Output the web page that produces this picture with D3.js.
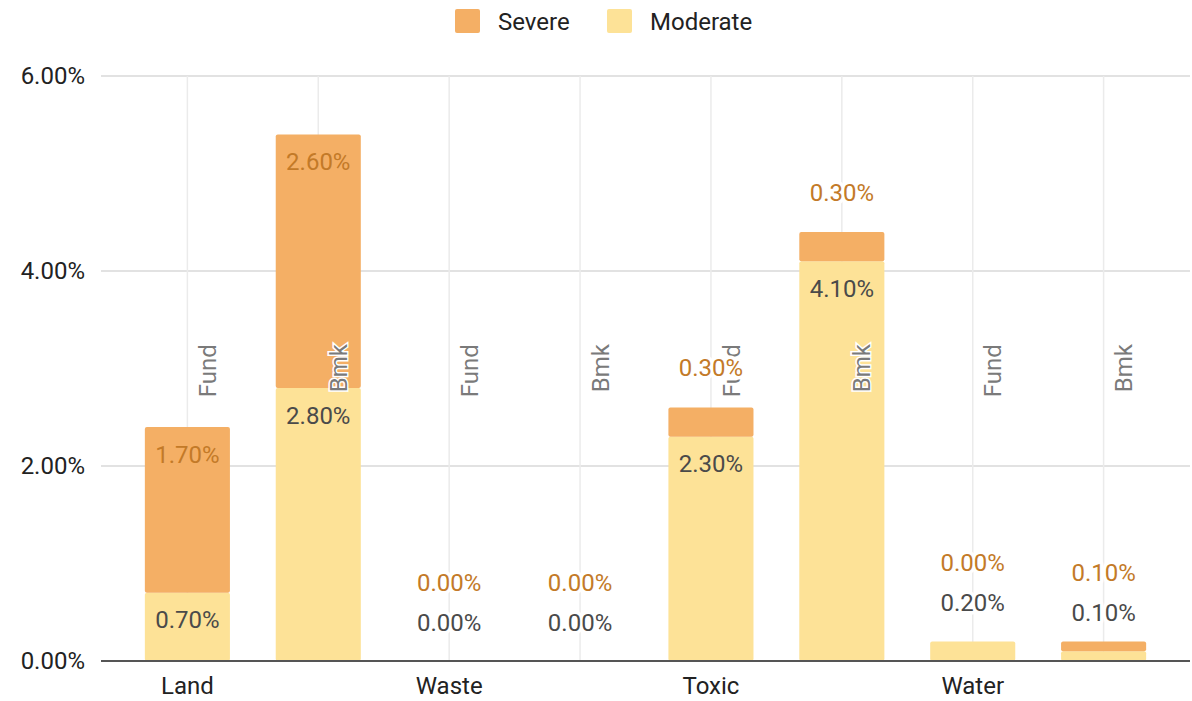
<!DOCTYPE html>
<html>
<head>
<meta charset="utf-8">
<script src="https://cdn.jsdelivr.net/npm/d3@7"></script>
<style>
  html, body { margin: 0; padding: 0; background: #fff; }
  svg { display: block; font-family: Roboto, "Noto Sans", Arial, sans-serif; }
</style>
</head>
<body>
<svg id="chart" width="1192" height="701"></svg>
<script>
// ---- data ----
const categories = ["Land", "Waste", "Toxic", "Water"];
const groups = ["Fund", "Bmk"];
const seriesNames = ["Severe", "Moderate"];
const moderate = [0.7, 2.8, 0.0, 0.0, 2.3, 4.1, 0.2, 0.1];
const severe   = [1.7, 2.6, 0.0, 0.0, 0.3, 0.3, 0.0, 0.1];
const yTicks = [0, 2, 4, 6];

// ---- layout ----
const W = 1192, H = 701;
const margin = { left: 101, right: 2, top: 76, bottom: 40 };
const colors = { Severe: "#f4af65", Moderate: "#fde297" };
const labelColors = { Severe: "#c37a28", Moderate: "#4a4a4a" };

const svg = d3.select("#chart");

const slots = [];
categories.forEach(c => groups.forEach(g => slots.push(c + "|" + g)));
const rows = slots.map((k, i) => ({ key: k, cat: k.split("|")[0], grp: k.split("|")[1], moderate: moderate[i], severe: severe[i] }));

const x = d3.scaleBand().domain(slots).range([margin.left, W - margin.right])
  .paddingInner(0.35).paddingOuter(0.335);
const y = d3.scaleLinear().domain([0, 6]).range([H - margin.bottom, margin.top]);

// horizontal grid
svg.append("g").selectAll("line").data(yTicks.filter(d => d !== 0)).join("line")
  .attr("x1", margin.left).attr("x2", W - margin.right)
  .attr("y1", d => y(d)).attr("y2", d => y(d))
  .attr("stroke", "#d9d9d9").attr("stroke-width", 1.5);

// vertical grid at band centers
svg.append("g").selectAll("line").data(slots).join("line")
  .attr("x1", d => x(d) + x.bandwidth() / 2).attr("x2", d => x(d) + x.bandwidth() / 2)
  .attr("y1", y(6)).attr("y2", y(0))
  .attr("stroke", "#ebebeb").attr("stroke-width", 1.5);

// y axis labels
const yAxis = d3.axisLeft(y).tickValues(yTicks).tickFormat(d => d.toFixed(2) + "%").tickSize(0).tickPadding(16);
const yg = svg.append("g").attr("transform", `translate(${margin.left},0)`).call(yAxis);
yg.select(".domain").remove();
yg.selectAll("text").attr("font-size", 24).attr("fill", "#222").attr("font-family", "Roboto, Arial, sans-serif");

// stacked bars
const stack = d3.stack().keys(["moderate", "severe"]);
const stacked = stack(rows);
const seriesColor = { moderate: colors.Moderate, severe: colors.Severe };
stacked.forEach(layer => {
  svg.append("g").selectAll("rect").data(layer.filter(d => d[1] - d[0] > 0)).join("rect")
    .attr("x", d => x(d.data.key))
    .attr("width", x.bandwidth())
    .attr("y", d => y(d[1]))
    .attr("height", d => y(d[0]) - y(d[1]))
    .attr("rx", 2)
    .attr("fill", seriesColor[layer.key]);
});

// group labels (Fund / Bmk), vertical
svg.append("g").selectAll("text").data(rows).join("text")
  .attr("transform", d => `translate(${x(d.key) + x.bandwidth() / 2 + 20},${y(3.25)}) rotate(-90)`)
  .attr("text-anchor", "end")
  .attr("dy", "0.36em")
  .attr("font-size", 24)
  .attr("fill", "#7a7a7a")
  .attr("stroke", "#fff").attr("stroke-width", 3).attr("paint-order", "stroke")
  .text(d => d.grp);

// value labels
const labels = [];
rows.forEach(d => {
  const cx = x(d.key) + x.bandwidth() / 2;
  const modTop = y(d.moderate);
  const modH = y(0) - modTop;
  let modY, modOutside = false;
  if (modH >= 35) { modY = modTop + 27; } else { modY = modTop - 39; modOutside = true; }
  const sevTop = y(d.moderate + d.severe);
  const sevH = y(d.moderate) - sevTop;
  let sevY, sevOutside = false;
  if (sevH >= 35) { sevY = sevTop + 27; }
  else {
    sevOutside = true;
    sevY = sevTop - 40;
    if (modOutside) sevY = Math.min(sevY, modY - 40);
  }
  labels.push({ x: cx, y: modY, v: d.moderate, s: "Moderate", out: modOutside });
  labels.push({ x: cx, y: sevY, v: d.severe, s: "Severe", out: sevOutside });
});
svg.append("g").selectAll("text").data(labels).join("text")
  .attr("x", d => d.x).attr("y", d => d.y)
  .attr("text-anchor", "middle").attr("dy", "0.36em")
  .attr("font-size", 24)
  .attr("fill", d => labelColors[d.s])
  .attr("stroke", d => d.out ? "#fff" : "none")
  .attr("stroke-width", 7)
  .attr("stroke-linejoin", "round")
  .attr("paint-order", "stroke")
  .text(d => d.v.toFixed(2) + "%");

// baseline
svg.append("line")
  .attr("x1", margin.left).attr("x2", W - margin.right)
  .attr("y1", y(0)).attr("y2", y(0))
  .attr("stroke", "#555").attr("stroke-width", 2);

// category labels on x axis (at Fund slots)
svg.append("g").selectAll("text").data(categories).join("text")
  .attr("x", c => x(c + "|" + groups[0]) + x.bandwidth() / 2)
  .attr("y", y(0) + 33)
  .attr("text-anchor", "middle")
  .attr("font-size", 24).attr("fill", "#222")
  .text(c => c);

// legend
const lg = svg.append("g");
const legendScale = d3.scalePoint().domain(seriesNames).range([455, 607]);
seriesNames.forEach(n => {
  const gx = legendScale(n);
  lg.append("rect").attr("x", gx).attr("y", 9).attr("width", 25).attr("height", 24).attr("rx", 2)
    .attr("fill", colors[n]);
  lg.append("text").attr("x", gx + 43).attr("y", 21).attr("dy", "0.36em")
    .attr("font-size", 24).attr("fill", "#222").text(n);
});
</script>
</body>
</html>
